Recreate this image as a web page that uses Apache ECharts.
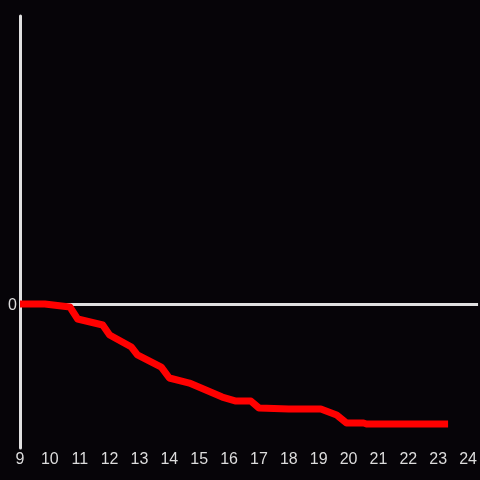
<!DOCTYPE html>
<html>
<head>
<meta charset="utf-8">
<script src="https://cdn.jsdelivr.net/npm/echarts@6/dist/echarts.min.js"></script>
<style>
  html, body { margin: 0; padding: 0; background: #060408; }
  #chart { width: 480px; height: 480px; }
</style>
</head>
<body>
<div id="chart"></div>
<script>
// hour of day vs value
const hours = [9.0, 9.83, 10.67, 10.93, 11.77, 12.0, 12.73, 12.93, 13.73, 14.0, 14.67, 15.77, 16.23, 16.73, 17.0, 18.0, 19.07, 19.6, 19.93, 20.5, 20.6, 23.33];
const values = [0, 0, -0.021, -0.104, -0.146, -0.215, -0.299, -0.354, -0.438, -0.514, -0.549, -0.646, -0.674, -0.674, -0.722, -0.729, -0.729, -0.771, -0.826, -0.826, -0.833, -0.833];
const xTicks = [9, 10, 11, 12, 13, 14, 15, 16, 17, 18, 19, 20, 21, 22, 23, 24];
const yTicks = [0];

const chart = echarts.init(document.getElementById('chart'));

const axisColor = '#e0e0e0';
const labelStyle = { color: '#dcdcdc', fontSize: 16, fontFamily: 'Liberation Sans' };

chart.setOption({
    backgroundColor: '#060408',
    animation: false,
    grid: { left: 20, right: 0, top: 16, bottom: 32 },
    xAxis: {
        type: 'value',
        min: 9,
        max: 24 + 1 / 3,
        interval: 1,
        axisLine: { show: false, onZero: false },
        axisTick: { show: false },
        splitLine: { show: false },
        axisLabel: {
            ...labelStyle,
            margin: 4,
            showMaxLabel: false,
            formatter: v => (xTicks.includes(v) ? String(v) : '')
        }
    },
    yAxis: {
        type: 'value',
        min: -1,
        max: 2,
        interval: 1,
        axisLine: { show: true, lineStyle: { color: axisColor, width: 3 } },
        axisTick: { show: false },
        splitLine: { show: false },
        axisLabel: {
            ...labelStyle,
            margin: 3,
            verticalAlign: 'top',
            padding: [-6, 0, 0, 0],
            formatter: v => (yTicks.includes(v) ? String(v) : '')
        }
    },
    series: [
        {
            // zero line, kept under the data line
            type: 'line',
            z: 1,
            data: [],
            markLine: {
                z: 1,
                silent: true,
                symbol: 'none',
                label: { show: false },
                lineStyle: { color: axisColor, width: 3, type: 'solid' },
                data: [{ yAxis: 0 }]
            }
        },
        {
            type: 'line',
            z: 3,
            data: hours.map((h, i) => [h, values[i]]),
            showSymbol: false,
            lineStyle: { color: '#ff0000', width: 7, cap: 'butt', join: 'round' }
        }
    ]
});
</script>
</body>
</html>
